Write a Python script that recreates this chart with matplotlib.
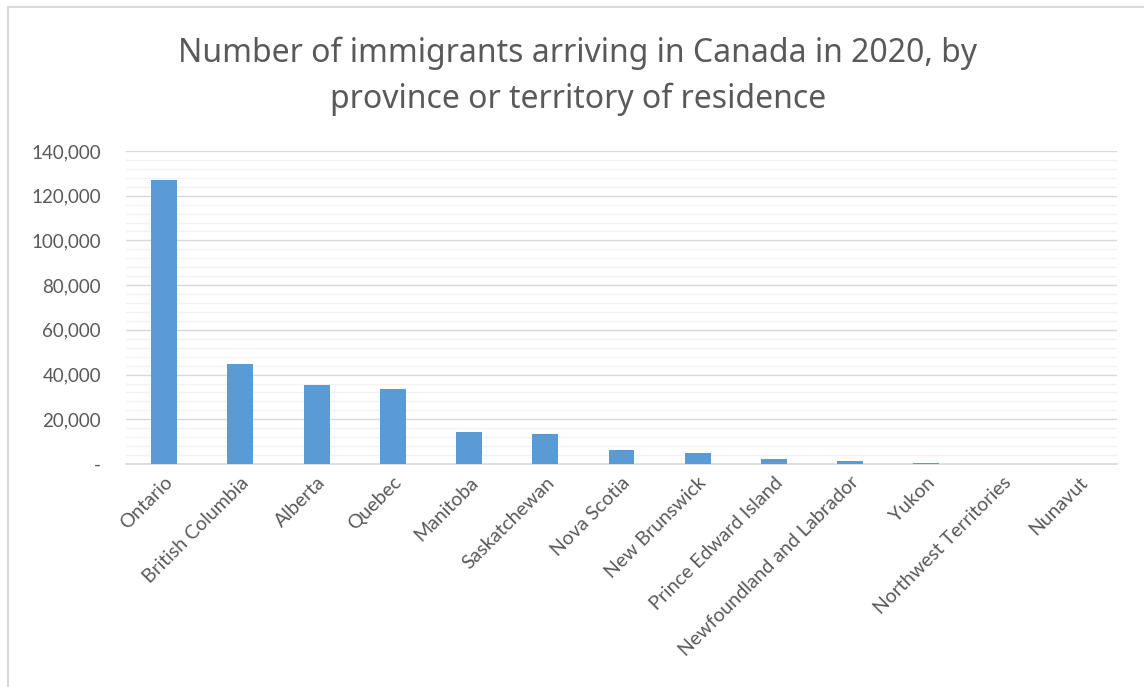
import numpy as np
import matplotlib.pyplot as plt
from matplotlib.ticker import MultipleLocator, FuncFormatter
from matplotlib.patches import Rectangle

# immigrants by province / territory of residence, 2020
provinces = ["Ontario", "British Columbia", "Alberta", "Quebec", "Manitoba",
             "Saskatchewan", "Nova Scotia", "New Brunswick", "Prince Edward Island",
             "Newfoundland and Labrador", "Yukon", "Northwest Territories", "Nunavut"]
immigrants = [127200, 44900, 35350, 33400, 14500, 13450, 6250, 4750, 2050,
              1350, 330, 220, 50]

bar_col = "#5B9BD5"
txt_col = "#595959"

plt.rcParams['font.family'] = ['Lato', 'DejaVu Sans']

fig = plt.figure(figsize=(11.44, 6.87), dpi=100)
ax = fig.add_axes([126/1144, 1 - 464/687, (1117-126)/1144, (464-151)/687])

x = np.arange(len(provinces))
ax.bar(x, immigrants, width=0.34, color=bar_col, zorder=3)

ax.set_xlim(-0.5, len(provinces) - 0.5)
ax.set_ylim(0, 140000)

ax.yaxis.set_major_locator(MultipleLocator(20000))
ax.yaxis.set_minor_locator(MultipleLocator(4000))
ax.yaxis.set_major_formatter(FuncFormatter(lambda v, p: "-" if v == 0 else f"{int(v):,}"))
ax.grid(axis='y', which='major', color="#D9D9D9", lw=1.0, zorder=1)
ax.grid(axis='y', which='minor', color="#F2F2F2", lw=1.0, zorder=0)

for s in ["top", "right", "left"]:
    ax.spines[s].set_visible(False)
ax.spines["bottom"].set_color("#D9D9D9")
ax.spines["bottom"].set_linewidth(1.2)

ax.tick_params(axis='y', which='both', length=0, pad=18, labelsize=13.5, labelcolor=txt_col)
ax.tick_params(axis='x', length=0, pad=7, labelsize=14, labelcolor=txt_col)
ax.set_xticks(x)
ax.set_xticklabels(provinces, rotation=45, ha='right', rotation_mode='anchor')

fig.text(0.505, 0.889, "Number of immigrants arriving in Canada in 2020, by\nprovince or territory of residence",
         ha='center', va='center', fontsize=23, color=txt_col,
         family=['Noto Sans', 'DejaVu Sans'], fontweight='light',
         linespacing=1.5)

# chart frame
fig.patches.append(Rectangle((8/1144, -0.05), 1.2, 1 - 7/687 + 0.05,
                             transform=fig.transFigure, fill=False,
                             edgecolor="#D9D9D9", lw=1.5))

fig.savefig("out.png", dpi=100)
